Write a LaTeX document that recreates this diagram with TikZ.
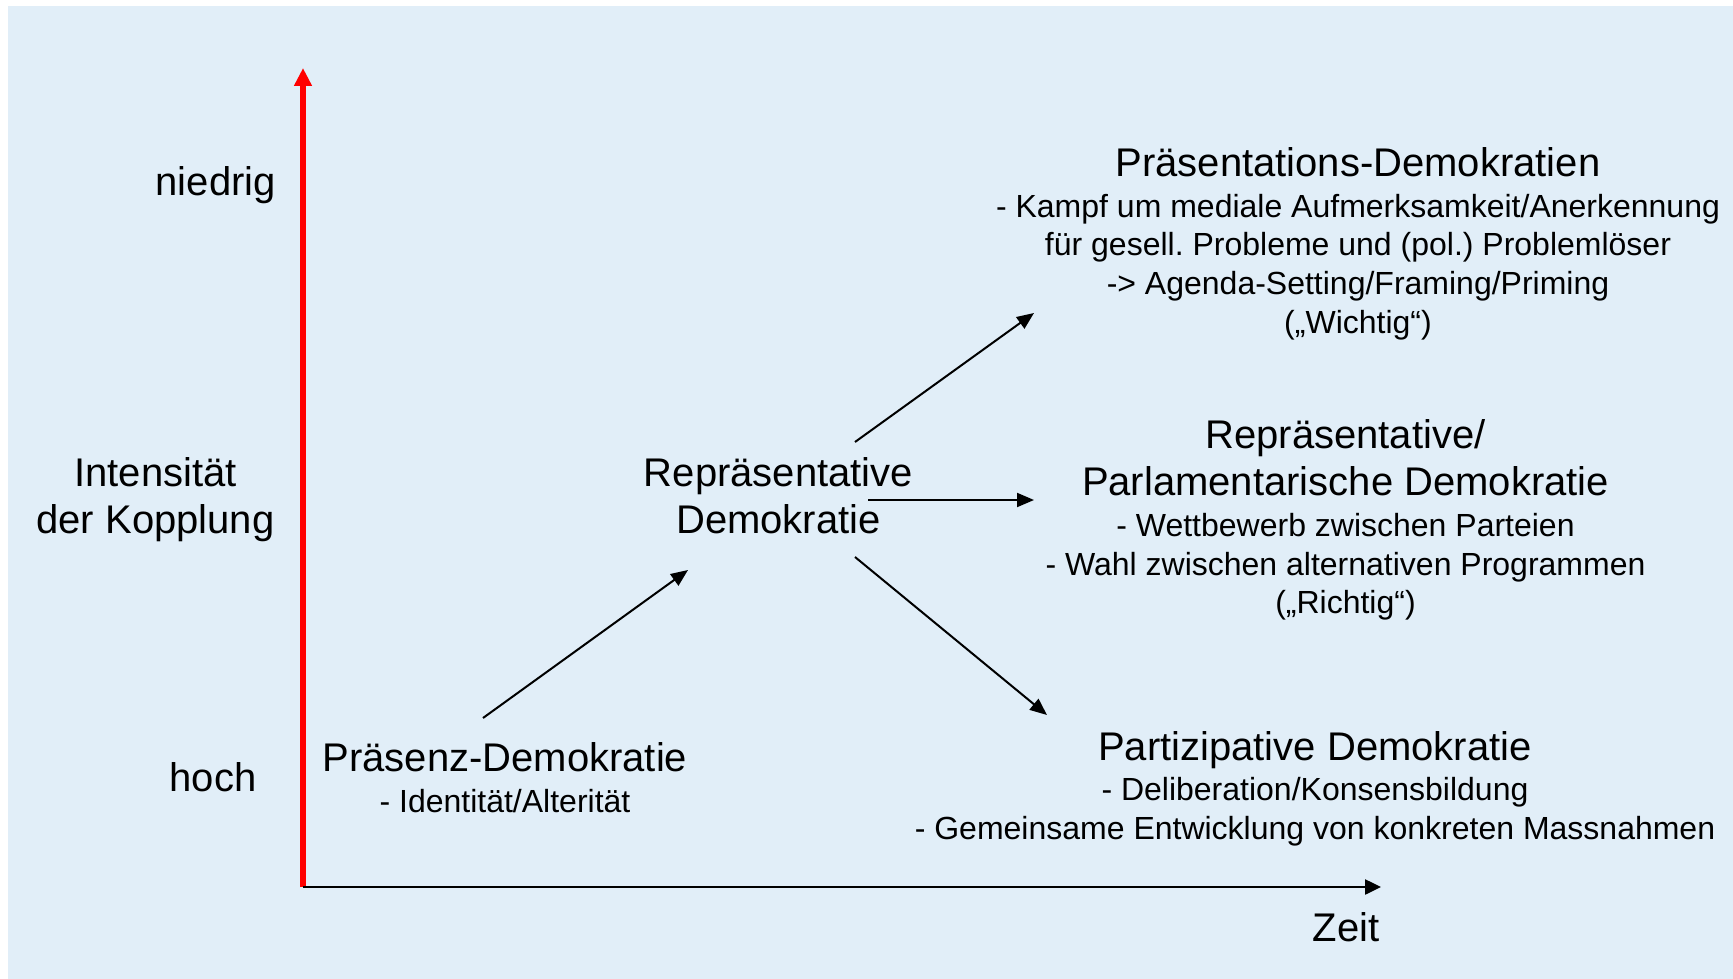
\documentclass[tikz,border=0pt]{standalone}
\usepackage{fontspec}
\setmainfont{Liberation Sans}
\usetikzlibrary{arrows.meta}
\definecolor{panel}{RGB}{225,238,248}
\definecolor{axisred}{RGB}{255,0,0}
\newcommand{\blocktitle}[1]{{\fontsize{40}{47}\selectfont #1}}
\frenchspacing
\begin{document}
\lineskiplimit=-100pt
\begin{tikzpicture}[x=1pt,y=-1pt,
  bigtext/.style={inner sep=0pt, align=center,
    font=\fontsize{40}{47}\selectfont},
  block/.style={inner sep=0pt, align=center, anchor=base,
    font=\fontsize{32}{38.6}\selectfont},
  conn/.style={line width=2pt, -{Triangle[length=17pt,width=14pt]}},
  timeaxis/.style={line width=2.5pt, -{Triangle[length=16pt,width=15pt]}},
  couplingaxis/.style={line width=6pt, draw=axisred, -{Triangle[length=18pt,width=17pt]}}]

% canvas and panel
\useasboundingbox (0,0) rectangle (1733,979);
\fill[white] (0,0) rectangle (1733,979);
\fill[panel] (8,6) rectangle (1733,979);

% axes
\coordinate (origin) at (303,887);
\coordinate (ytop) at (303,68);
\coordinate (xend) at (1381,887);
\draw[couplingaxis] (origin) -- (ytop);
\draw[timeaxis] (origin) -- (xend);

% axis labels
\node[bigtext, anchor=base east] (niedrig) at (276,196) {niedrig};
\node[bigtext, anchor=base] (intens) at (155.5,533) {Intensität\\der Kopplung};
\node[bigtext, anchor=base] (hoch) at (213,791) {hoch};
\node[bigtext, anchor=base] (zeit) at (1346,941.7) {Zeit};

% forms of democracy
\node[block] (praesenz) at (505,812)
  {\blocktitle{Präsenz-Demokratie}\\[1.8pt]- Identität/Alterität};
\node[bigtext, anchor=base] (repr) at (778.5,533)
  {Repräsentative\\Demokratie};
\node[block] (praes) at (1358,333)
  {\blocktitle{Präsentations-Demokratien}\\[1.8pt]
   - Kampf um mediale Aufmerksamkeit/Anerkennung\\
   für gesell. Probleme und (pol.) Problemlöser\\
   -> Agenda-Setting/Framing/Priming\\
   („Wichtig“)};
\node[block] (parl) at (1345.5,613.6)
  {\blocktitle{Repräsentative/}\\[9pt]
   \blocktitle{Parlamentarische Demokratie}\\[2.2pt]
   - Wettbewerb zwischen Parteien\\
   - Wahl zwischen alternativen Programmen\\
   („Richtig“)};
\node[block] (partiz) at (1315,839.3)
  {\blocktitle{Partizipative Demokratie}\\[1.8pt]
   - Deliberation/Konsensbildung\\
   - Gemeinsame Entwicklung von konkreten Massnahmen};

% transitions
\coordinate (praesenz-out) at (483,718);
\coordinate (repr-in) at (688,570);
\coordinate (repr-up) at (855,442);
\coordinate (praes-in) at (1034,313);
\coordinate (repr-mid) at (868,500);
\coordinate (parl-in) at (1034,500);
\coordinate (repr-down) at (855,557);
\coordinate (partiz-in) at (1047,715);
\draw[conn] (praesenz-out) -- (repr-in);
\draw[conn] (repr-up) -- (praes-in);
\draw[conn] (repr-mid) -- (parl-in);
\draw[conn] (repr-down) -- (partiz-in);
\end{tikzpicture}
\end{document}
